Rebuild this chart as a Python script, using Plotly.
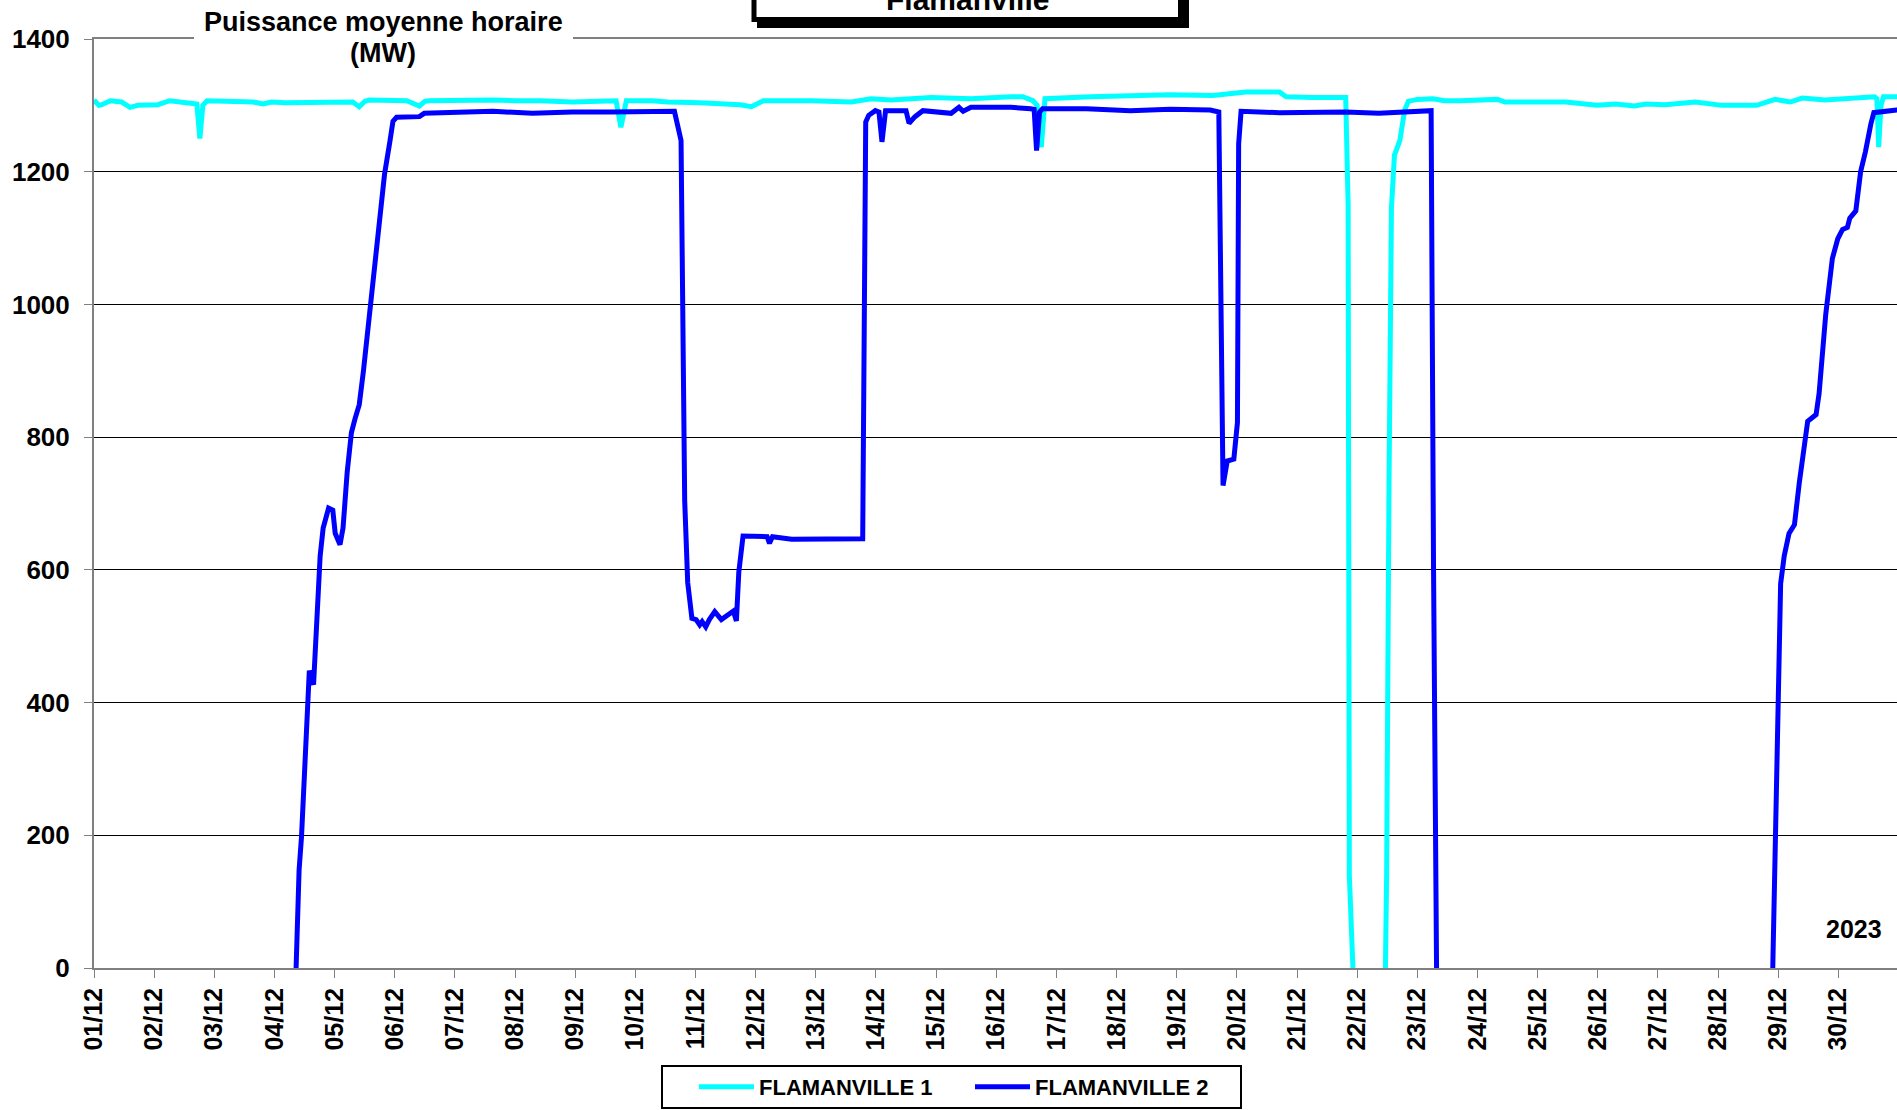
import plotly.graph_objects as go

# ---------------- data (hourly mean power, MW) ----------------
f1_time = [
    "2023-12-01 00:00", "2023-12-01 01:55", "2023-12-01 03:07", "2023-12-01 06:29", "2023-12-01 11:02",
    "2023-12-01 14:24", "2023-12-01 17:31", "2023-12-02 01:26", "2023-12-02 06:14", "2023-12-02 11:02",
    "2023-12-02 15:50", "2023-12-02 17:02", "2023-12-02 18:14", "2023-12-02 19:26", "2023-12-02 21:07",
    "2023-12-03 04:48", "2023-12-03 15:36", "2023-12-03 19:26", "2023-12-03 22:48", "2023-12-04 04:19",
    "2023-12-04 13:55", "2023-12-05 00:00", "2023-12-05 07:12", "2023-12-05 09:50", "2023-12-05 12:00",
    "2023-12-05 13:41", "2023-12-06 04:48", "2023-12-06 09:50", "2023-12-06 12:00", "2023-12-06 13:41",
    "2023-12-07 02:24", "2023-12-07 15:07", "2023-12-08 00:00", "2023-12-08 10:05", "2023-12-08 22:48",
    "2023-12-09 11:31", "2023-12-09 16:19", "2023-12-09 18:14", "2023-12-09 20:24", "2023-12-10 06:43",
    "2023-12-10 12:58", "2023-12-11 01:41", "2023-12-11 14:24", "2023-12-11 17:46", "2023-12-11 22:19",
    "2023-12-12 03:07", "2023-12-12 22:19", "2023-12-13 14:10", "2023-12-13 22:05", "2023-12-14 06:00",
    "2023-12-14 22:05", "2023-12-15 13:55", "2023-12-16 05:46", "2023-12-16 10:34", "2023-12-16 14:38",
    "2023-12-16 16:19", "2023-12-16 18:00", "2023-12-16 19:26", "2023-12-17 13:41", "2023-12-18 05:31",
    "2023-12-18 21:22", "2023-12-19 14:24", "2023-12-20 03:36", "2023-12-20 17:02", "2023-12-20 19:41",
    "2023-12-21 06:14", "2023-12-21 19:26", "2023-12-21 20:24", "2023-12-21 20:53", "2023-12-21 22:19",
    "2023-12-22 00:00",
    "2023-12-22 11:17", "2023-12-22 11:46", "2023-12-22 12:43", "2023-12-22 13:41", "2023-12-22 14:53",
    "2023-12-22 17:02", "2023-12-22 18:58", "2023-12-22 20:24", "2023-12-23 00:00", "2023-12-23 06:14",
    "2023-12-23 10:48", "2023-12-23 17:02", "2023-12-24 07:55", "2023-12-24 11:02", "2023-12-25 11:17",
    "2023-12-25 23:31", "2023-12-26 07:12", "2023-12-26 14:38", "2023-12-26 19:12", "2023-12-27 02:53",
    "2023-12-27 14:53", "2023-12-28 01:41", "2023-12-28 15:22", "2023-12-28 22:48", "2023-12-29 04:48",
    "2023-12-29 09:36", "2023-12-29 18:43", "2023-12-30 06:43", "2023-12-30 14:24", "2023-12-30 15:22",
    "2023-12-30 16:05", "2023-12-30 17:02", "2023-12-30 18:00", "2023-12-30 23:17", "2023-12-31 00:00",
]
f1_mw = [
    1308, 1300, 1301, 1307, 1305,
    1297, 1300, 1301, 1307, 1305,
    1303, 1302, 1250, 1300, 1307,
    1306, 1305, 1302, 1305, 1304,
    1305, 1305, 1305, 1298, 1306,
    1308, 1307, 1299, 1306, 1307,
    1308, 1308, 1307, 1307, 1305,
    1307, 1307, 1267, 1307, 1307,
    1305, 1304, 1302, 1301, 1298,
    1307, 1307, 1305, 1310, 1308,
    1312, 1310, 1313, 1313, 1307,
    1300, 1237, 1310, 1313, 1315,
    1316, 1315, 1320, 1320, 1313,
    1312, 1312, 1150, 140, 0,
    None,
    0, 140, 730, 1145, 1225,
    1247, 1293, 1306, 1309, 1310,
    1307, 1307, 1309, 1305, 1305,
    1300, 1302, 1299, 1302, 1301,
    1305, 1300, 1300, 1309, 1305,
    1311, 1308, 1312, 1313, 1310,
    1237, 1300, 1313, 1313, 1313,
]

f2_time = [
    "2023-12-04 08:38", "2023-12-04 09:50", "2023-12-04 10:48", "2023-12-04 12:58", "2023-12-04 13:55",
    "2023-12-04 15:36", "2023-12-04 16:48", "2023-12-04 18:14", "2023-12-04 19:26", "2023-12-04 21:36",
    "2023-12-04 23:17", "2023-12-05 00:14", "2023-12-05 02:10", "2023-12-05 03:22", "2023-12-05 05:02",
    "2023-12-05 06:43", "2023-12-05 08:10", "2023-12-05 09:50", "2023-12-05 11:31", "2023-12-05 12:43",
    "2023-12-05 14:38", "2023-12-05 16:05", "2023-12-05 18:00", "2023-12-05 19:55", "2023-12-05 22:05",
    "2023-12-05 23:17", "2023-12-06 00:43", "2023-12-06 09:50", "2023-12-06 11:46", "2023-12-06 18:00",
    "2023-12-07 15:07", "2023-12-08 06:58", "2023-12-08 22:48", "2023-12-09 14:38", "2023-12-10 06:43",
    "2023-12-10 15:36", "2023-12-10 18:14", "2023-12-10 18:43", "2023-12-10 19:41", "2023-12-10 20:53",
    "2023-12-10 22:34", "2023-12-11 00:14", "2023-12-11 01:41", "2023-12-11 02:38", "2023-12-11 04:05",
    "2023-12-11 05:31", "2023-12-11 07:41", "2023-12-11 10:19", "2023-12-11 12:14", "2023-12-11 14:24",
    "2023-12-11 15:07", "2023-12-11 16:19", "2023-12-11 17:17", "2023-12-11 18:58", "2023-12-12 01:41",
    "2023-12-12 04:34", "2023-12-12 05:31", "2023-12-12 06:43", "2023-12-12 14:24", "2023-12-13 02:24",
    "2023-12-13 16:48", "2023-12-13 18:43", "2023-12-13 19:55", "2023-12-13 21:07", "2023-12-13 23:46",
    "2023-12-14 01:12", "2023-12-14 02:24", "2023-12-14 03:50", "2023-12-14 09:22", "2023-12-14 12:00",
    "2023-12-14 13:12", "2023-12-14 15:36", "2023-12-14 18:43", "2023-12-15 01:12", "2023-12-15 06:00",
    "2023-12-15 09:07", "2023-12-15 10:48", "2023-12-15 13:55", "2023-12-16 05:46", "2023-12-16 13:41",
    "2023-12-16 15:07", "2023-12-16 16:05", "2023-12-16 17:17", "2023-12-16 18:29", "2023-12-17 12:00",
    "2023-12-18 05:31", "2023-12-18 21:22", "2023-12-19 13:26", "2023-12-19 16:48", "2023-12-19 18:29",
    "2023-12-19 20:10", "2023-12-19 22:48", "2023-12-20 00:14", "2023-12-20 00:43", "2023-12-20 01:41",
    "2023-12-20 17:02", "2023-12-21 19:26", "2023-12-22 08:38", "2023-12-22 21:50", "2023-12-23 05:31",
    "2023-12-23 06:29", "2023-12-23 07:41",
    "2023-12-25 00:00",
    "2023-12-28 21:50", "2023-12-28 22:48", "2023-12-28 23:46", "2023-12-29 00:58", "2023-12-29 02:24",
    "2023-12-29 04:19", "2023-12-29 06:29", "2023-12-29 08:24", "2023-12-29 11:46", "2023-12-29 15:07",
    "2023-12-29 16:19", "2023-12-29 18:58", "2023-12-29 21:36", "2023-12-29 23:46", "2023-12-30 01:41",
    "2023-12-30 03:36", "2023-12-30 04:34", "2023-12-30 06:58", "2023-12-30 08:53", "2023-12-30 10:48",
    "2023-12-30 12:58", "2023-12-30 14:10", "2023-12-30 23:17", "2023-12-31 00:00",
]
f2_mw = [
    0, 148, 198, 401, 448,
    427, 511, 621, 663, 693,
    690, 655, 638, 663, 748,
    807, 828, 849, 900, 942,
    1018, 1052, 1120, 1196, 1246,
    1276, 1282, 1283, 1288, 1289,
    1291, 1288, 1290, 1290, 1291,
    1291, 1247, 1000, 705, 581,
    527, 525, 517, 522, 514,
    525, 537, 525, 530, 534,
    538, 523, 597, 651, 651,
    650, 640, 650, 646, 647,
    647, 647, 1275, 1285, 1292,
    1290, 1245, 1292, 1292, 1292,
    1273, 1283, 1292, 1290, 1288,
    1297, 1291, 1297, 1297, 1295,
    1294, 1232, 1290, 1295, 1295,
    1292, 1294, 1293, 1290, 727,
    764, 767, 822, 1242, 1291,
    1289, 1290, 1288, 1290, 1292,
    600, 0,
    None,
    0, 198, 393, 579, 621,
    655, 668, 731, 824, 834,
    866, 985, 1069, 1099, 1113,
    1116, 1130, 1141, 1200, 1230,
    1272, 1289, 1293, 1293,
]

series_names = ["FLAMANVILLE 1", "FLAMANVILLE 2"]
series_colors = ["#00FFFF", "#0000FF"]
y_ticks = [0, 200, 400, 600, 800, 1000, 1200, 1400]
title_text = "Flamanville"
y_title_lines = ["Puissance moyenne horaire", "(MW)"]
year_text = "2023"

# ---------------- layout geometry (pixels) ----------------
W, H = 1897, 1110
ML, MT, MB = 94, 39, 142
PW = W - ML
PH = H - MT - MB


def px(x):
    return (x - ML) / PW


def py(y):
    return (MT + PH - y) / PH


FONT = "Liberation Sans, Arial, sans-serif"

fig = go.Figure()
for t, v, n, c in [(f1_time, f1_mw, series_names[0], series_colors[0]),
                   (f2_time, f2_mw, series_names[1], series_colors[1])]:
    fig.add_trace(go.Scatter(x=t, y=v, name=n, mode="lines",
                             line=dict(color=c, width=5), connectgaps=False))

fig.update_layout(
    width=W, height=H,
    margin=dict(l=ML, r=0, t=MT, b=MB, pad=0),
    paper_bgcolor="white", plot_bgcolor="white",
    font=dict(family=FONT, color="black"),
    showlegend=True,
    legend=dict(orientation="h", x=px(694), xanchor="left", y=py(1066), yanchor="top",
                borderwidth=0, bgcolor="rgba(0,0,0,0)",
                itemwidth=55, entrywidth=206, entrywidthmode="pixels",
                font=dict(size=22, family=FONT, weight=700, color="black"),
                traceorder="normal"),
    xaxis=dict(type="date", range=["2023-12-01 00:00", "2023-12-30 23:24"],
               tick0="2023-12-01", dtick=86400000, tickformat="%d/%m", tickangle=-90,
               ticks="outside", ticklen=8, tickcolor="#808080", tickwidth=1,
               showline=True, linecolor="#808080", linewidth=2, mirror=True,
               showgrid=False, zeroline=False,
               tickfont=dict(size=25, family=FONT, weight=700, color="black")),
    yaxis=dict(range=[0, 1400], tickvals=y_ticks, ticks="outside", ticklen=8,
               tickcolor="#808080", showline=True, linecolor="#808080", linewidth=2,
               showgrid=True, gridcolor="black", gridwidth=1, zeroline=False,
               ticklabelstandoff=9,
               tickfont=dict(size=26, family=FONT, weight=700, color="black")),
    shapes=[
        dict(type="rect", xref="paper", yref="paper", x0=px(757), x1=px(1189), y0=py(28), y1=py(-30),
             fillcolor="black", line=dict(width=0), layer="above"),
        dict(type="rect", xref="paper", yref="paper", x0=px(754), x1=px(1180.5), y0=py(19.5), y1=py(-30),
             fillcolor="white", line=dict(color="black", width=5), layer="above"),
        dict(type="rect", xref="paper", yref="paper", x0=px(194), x1=px(573), y0=py(66), y1=py(0),
             fillcolor="white", line=dict(width=0), layer="above"),
        dict(type="rect", xref="paper", yref="paper", x0=px(662), x1=px(1241), y0=py(1108), y1=py(1066),
             fillcolor="rgba(0,0,0,0)", line=dict(color="black", width=2), layer="above"),
    ],
    annotations=[
        dict(text=title_text, xref="paper", yref="paper", x=px(967), y=py(0), xanchor="center",
             yanchor="middle", showarrow=False,
             font=dict(size=30, family=FONT, weight=700, color="black")),
        dict(text=y_title_lines[0], xref="paper", yref="paper", x=px(383), y=py(22), xanchor="center",
             yanchor="middle", showarrow=False,
             font=dict(size=27, family=FONT, weight=700, color="black")),
        dict(text=y_title_lines[1], xref="paper", yref="paper", x=px(383), y=py(53), xanchor="center",
             yanchor="middle", showarrow=False,
             font=dict(size=27, family=FONT, weight=700, color="black")),
        dict(text=year_text, xref="paper", yref="paper", x=px(1884), y=py(929), xanchor="right",
             yanchor="middle", showarrow=False,
             font=dict(size=25, family=FONT, weight=700, color="black")),
    ],
)

fig.write_html("out.html", config={"displayModeBar": False},
               post_script="document.body.style.margin='0';document.body.style.overflow='hidden';")
